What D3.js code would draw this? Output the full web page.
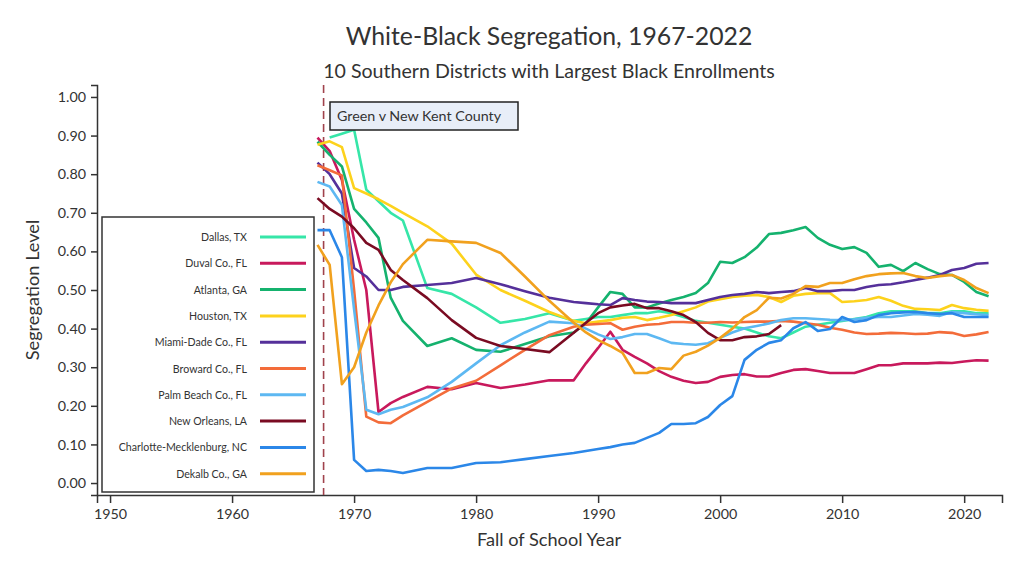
<!DOCTYPE html>
<html>
<head>
<meta charset="utf-8">
<script src="https://cdn.jsdelivr.net/npm/d3@7"></script>
<style>
  html, body { margin: 0; padding: 0; background: #fff; }
  svg { display: block; font-family: Lato, "Open Sans", sans-serif; }
</style>
</head>
<body>
<svg id="chart" width="1024" height="576"></svg>
<script>
// ---------------- DATA ----------------
const years = [1967, 1968, 1969, 1970, 1971, 1972, 1973, 1974,
  1976, 1978, 1980, 1982, 1984, 1986,
  1988, 1989, 1990, 1991, 1992, 1993, 1994, 1995, 1996, 1997,
  1998, 1999, 2000, 2001, 2002, 2003, 2004, 2005, 2006, 2007,
  2008, 2009, 2010, 2011, 2012, 2013, 2014, 2015, 2016, 2017,
  2018, 2019, 2020, 2021, 2022];

const districts = ["Dallas, TX", "Duval Co., FL", "Atlanta, GA", "Houston, TX", "Miami-Dade Co., FL",
  "Broward Co., FL", "Palm Beach Co., FL", "New Orleans, LA", "Charlotte-Mecklenburg, NC", "Dekalb Co., GA"];

const dallas = [null, 0.895, 0.905, 0.915, 0.76, 0.73, 0.70, 0.68,
  0.505, 0.49, 0.455, 0.415, 0.425, 0.44,
  0.42, 0.425, 0.43, 0.43, 0.435, 0.44, 0.44, 0.445, 0.44, 0.43,
  0.42, 0.415, 0.41, 0.405, 0.40, 0.39, 0.38, 0.375, 0.39, 0.405,
  0.41, 0.415, 0.42, 0.425, 0.43, 0.44, 0.445, 0.445, 0.445, 0.44,
  0.44, 0.445, 0.445, 0.44, 0.44];
const duval = [0.895, 0.86, 0.785, 0.63, 0.50, 0.184, 0.207, 0.223,
  0.249, 0.243, 0.259, 0.246, 0.255, 0.266,
  0.266, 0.31, 0.35, 0.392, 0.345, 0.327, 0.31, 0.29, 0.275, 0.265,
  0.259, 0.262, 0.275, 0.28, 0.282, 0.276, 0.276, 0.285, 0.293, 0.295,
  0.29, 0.285, 0.285, 0.285, 0.295, 0.305, 0.305, 0.31, 0.31, 0.31,
  0.312, 0.311, 0.315, 0.318, 0.317];
const atlanta = [0.884, 0.85, 0.82, 0.71, 0.675, 0.635, 0.48, 0.42,
  0.355, 0.375, 0.345, 0.34, 0.36, 0.38,
  0.39, 0.414, 0.455, 0.495, 0.49, 0.455, 0.455, 0.465, 0.474, 0.482,
  0.492, 0.518, 0.573, 0.57, 0.585, 0.61, 0.645, 0.648, 0.655, 0.663,
  0.635, 0.617, 0.606, 0.611, 0.596, 0.56, 0.565, 0.549, 0.57, 0.554,
  0.541, 0.539, 0.521, 0.495, 0.484];
const houston = [0.876, 0.885, 0.87, 0.764, 0.75, 0.735, 0.718, 0.70,
  0.665, 0.62, 0.54, 0.50, 0.472, 0.443,
  0.42, 0.414, 0.418, 0.422, 0.428, 0.43, 0.422, 0.428, 0.435, 0.445,
  0.455, 0.47, 0.476, 0.482, 0.485, 0.487, 0.482, 0.469, 0.485, 0.49,
  0.492, 0.492, 0.469, 0.471, 0.474, 0.482, 0.472, 0.459, 0.451, 0.45,
  0.448, 0.461, 0.453, 0.449, 0.446];
const miamiDade = [0.83, 0.80, 0.75, 0.557, 0.535, 0.50, 0.50, 0.508,
  0.513, 0.518, 0.531, 0.515, 0.497, 0.48,
  0.469, 0.466, 0.463, 0.461, 0.479, 0.474, 0.47, 0.469, 0.466, 0.466,
  0.466, 0.474, 0.482, 0.487, 0.49, 0.495, 0.492, 0.495, 0.497, 0.505,
  0.497, 0.497, 0.50, 0.50, 0.508, 0.513, 0.515, 0.52, 0.526, 0.532,
  0.539, 0.552, 0.557, 0.568, 0.57];
const broward = [0.823, 0.81, 0.797, 0.50, 0.172, 0.157, 0.155, 0.175,
  0.21, 0.245, 0.265, 0.305, 0.345, 0.383,
  0.405, 0.41, 0.412, 0.414, 0.397, 0.405, 0.41, 0.412, 0.417, 0.417,
  0.415, 0.415, 0.417, 0.416, 0.417, 0.418, 0.418, 0.42, 0.418, 0.414,
  0.41, 0.402, 0.397, 0.39, 0.386, 0.387, 0.389, 0.388, 0.386, 0.387,
  0.391, 0.389, 0.381, 0.385, 0.391];
const palmBeach = [0.78, 0.768, 0.72, 0.45, 0.19, 0.178, 0.19, 0.197,
  0.222, 0.262, 0.31, 0.357, 0.39, 0.418,
  0.414, 0.40, 0.385, 0.373, 0.378, 0.386, 0.386, 0.375, 0.363, 0.36,
  0.358, 0.362, 0.376, 0.39, 0.401, 0.407, 0.413, 0.422, 0.427, 0.427,
  0.425, 0.423, 0.422, 0.424, 0.428, 0.43, 0.43, 0.434, 0.438, 0.436,
  0.433, 0.443, 0.44, 0.437, 0.435];
const newOrleans = [0.738, 0.71, 0.69, 0.66, 0.622, 0.604, 0.552, 0.526,
  0.479, 0.422, 0.376, 0.355, 0.347, 0.339,
  0.389, 0.415, 0.44, 0.455, 0.46, 0.464, 0.453, 0.453, 0.445, 0.435,
  0.417, 0.389, 0.37, 0.37, 0.378, 0.38, 0.386, 0.409, null, null,
  null, null, null, null, null, null, null, null, null, null,
  null, null, null, null, null];
const charlotte = [0.655, 0.655, 0.585, 0.06, 0.031, 0.034, 0.031, 0.026,
  0.039, 0.039, 0.052, 0.054, 0.062, 0.07,
  0.078, 0.083, 0.088, 0.093, 0.10, 0.104, 0.117, 0.13, 0.153, 0.153,
  0.155, 0.171, 0.202, 0.225, 0.319, 0.345, 0.363, 0.37, 0.401, 0.417,
  0.394, 0.399, 0.43, 0.417, 0.422, 0.435, 0.44, 0.442, 0.443, 0.44,
  0.438, 0.44, 0.43, 0.43, 0.43];
const dekalb = [0.617, 0.565, 0.256, 0.30, 0.39, 0.46, 0.52, 0.567,
  0.63, 0.626, 0.622, 0.596, 0.535, 0.472,
  0.415, 0.39, 0.37, 0.355, 0.337, 0.285, 0.285, 0.298, 0.295, 0.33,
  0.34, 0.356, 0.376, 0.40, 0.43, 0.448, 0.48, 0.478, 0.49, 0.51,
  0.508, 0.518, 0.518, 0.528, 0.536, 0.541, 0.543, 0.544, 0.536, 0.531,
  0.536, 0.539, 0.526, 0.505, 0.492];

const seriesValues = [dallas, duval, atlanta, houston, miamiDade, broward, palmBeach, newOrleans, charlotte, dekalb];
const colors = ["#36e6a8", "#c8195c", "#15b26e", "#fdd21c", "#55309a", "#f36c3a", "#5db8f2", "#7a0b22", "#2b87e8", "#f1a11e"];

const yTicks = [0, 0.1, 0.2, 0.3, 0.4, 0.5, 0.6, 0.7, 0.8, 0.9, 1.0];
const xTicks = [1950, 1960, 1970, 1980, 1990, 2000, 2010, 2020];
const caseYear = 1967.5;
const caseLabel = "Green v New Kent County";
const title = "White-Black Segregation, 1967-2022";
const subtitle = "10 Southern Districts with Largest Black Enrollments";
const xTitle = "Fall of School Year";
const yTitle = "Segregation Level";

// ---------------- CHART ----------------
const svg = d3.select("#chart");
const axisColor = "#333";

const x = d3.scaleLinear().domain([1948.93, 2023.1]).range([97, 1002]);
const y = d3.scaleLinear().domain([-0.031, 1.031]).range([495, 85]);

// titles
svg.append("text").attr("x", 549).attr("y", 45).attr("text-anchor", "middle")
  .attr("font-size", 24.8).attr("fill", "#333").text(title);
svg.append("text").attr("x", 549).attr("y", 78).attr("text-anchor", "middle")
  .attr("font-size", 19.6).attr("fill", "#333").text(subtitle);

// axes
const xAxis = svg.append("g").attr("transform", "translate(0,495)")
  .call(d3.axisBottom(x).tickValues(xTicks).tickFormat(d3.format("d")).tickSizeOuter(0).tickSize(8).tickPadding(6));
const yAxis = svg.append("g").attr("transform", "translate(97,0)")
  .call(d3.axisLeft(y).tickValues(yTicks).tickFormat(d3.format(".2f")).tickSizeOuter(0).tickSize(6).tickPadding(5));
[xAxis, yAxis].forEach(g => {
  g.selectAll("path.domain").attr("stroke", axisColor).attr("stroke-width", 1.5);
  g.selectAll(".tick line").attr("stroke", axisColor).attr("stroke-width", 1.5);
  g.selectAll(".tick text").attr("fill", "#333").attr("font-size", 14.3).attr("font-family", "Lato, sans-serif");
});

svg.append("text").attr("x", 549).attr("y", 546).attr("text-anchor", "middle")
  .attr("font-size", 18.2).attr("fill", "#333").text(xTitle);
svg.append("text").attr("transform", "translate(39,290) rotate(-90)").attr("text-anchor", "middle")
  .attr("font-size", 18.2).attr("fill", "#333").text(yTitle);

// dashed reference line
svg.append("line").attr("x1", x(caseYear)).attr("x2", x(caseYear))
  .attr("y1", y(1.031)).attr("y2", y(-0.031))
  .attr("stroke", "#a0424c").attr("stroke-width", 1.6).attr("stroke-dasharray", "8,5");

// lines
const line = d3.line().x(d => x(d.year)).y(d => y(d.value));
districts.forEach((name, i) => {
  const pts = years.map((yr, j) => ({ year: yr, value: seriesValues[i][j] }))
    .filter(d => d.value !== null);
  svg.append("path").datum(pts).attr("d", line)
    .attr("fill", "none").attr("stroke", colors[i]).attr("stroke-width", 2.6)
    .attr("stroke-linejoin", "round");
});

// annotation box
const ann = svg.append("g");
ann.append("rect").attr("x", 330).attr("y", 102).attr("width", 188).attr("height", 28)
  .attr("fill", "#e8eef8").attr("stroke", "#222").attr("stroke-width", 1.5);
ann.append("text").attr("x", 337).attr("y", 121).attr("font-size", 14.3).attr("fill", "#333").text(caseLabel);

// legend
const leg = svg.append("g");
leg.append("rect").attr("x", 102).attr("y", 217).attr("width", 212).attr("height", 275)
  .attr("fill", "#fff").attr("stroke", "#333").attr("stroke-width", 1.5);
districts.forEach((name, i) => {
  const ly = 237 + i * 26.3;
  leg.append("text").attr("x", 247).attr("y", ly + 4).attr("text-anchor", "end")
    .attr("font-size", 10.6).attr("fill", "#333").text(name);
  leg.append("line").attr("x1", 260).attr("x2", 306).attr("y1", ly).attr("y2", ly)
    .attr("stroke", colors[i]).attr("stroke-width", 3);
});
</script>
</body>
</html>
